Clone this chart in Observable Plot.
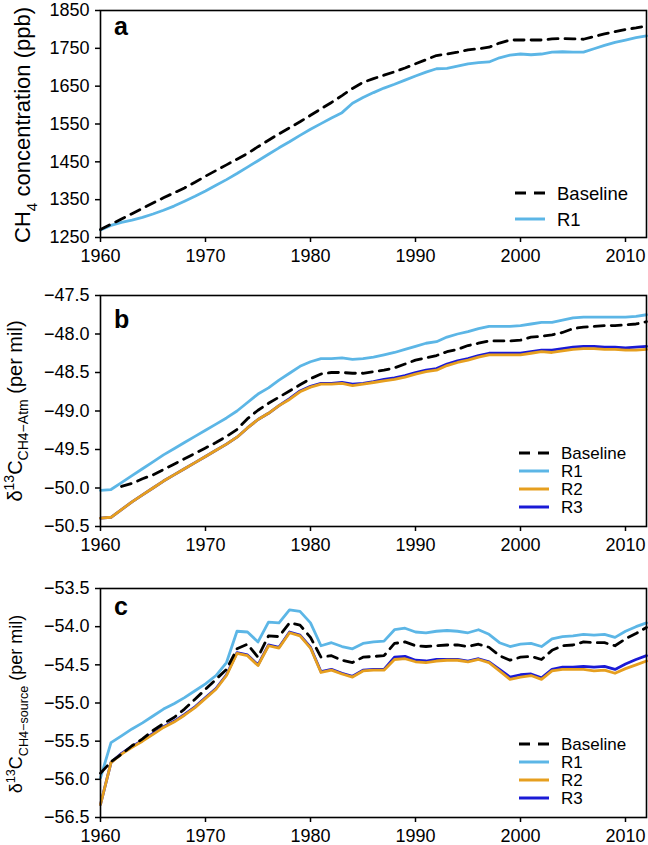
<!DOCTYPE html>
<html>
<head>
<meta charset="utf-8">
<script src="https://cdn.jsdelivr.net/npm/d3@7"></script>
<script src="https://cdn.jsdelivr.net/npm/@observablehq/plot@0.6"></script>
<style>
  body { margin: 0; background: #fff; }
  #chart svg { display: block; }
</style>
</head>
<body>
<div id="chart"></div>
<script>
// ---------------- DATA ----------------
const years = [1960,1961,1962,1963,1964,1965,1966,1967,1968,1969,
  1970,1971,1972,1973,1974,1975,1976,1977,1978,1979,
  1980,1981,1982,1983,1984,1985,1986,1987,1988,1989,
  1990,1991,1992,1993,1994,1995,1996,1997,1998,1999,
  2000,2001,2002,2003,2004,2005,2006,2007,2008,2009,
  2010,2011,2012];

const xTicks = [1960, 1970, 1980, 1990, 2000, 2010];

// Panel a: CH4 concentration (ppb)
const aBaseline = [1271,1285,1299,1313,1327,1341,1355,1368,1381,1396,
  1412,1427,1442,1457,1472,1490,1507,1524,1540,1556,
  1573,1590,1607,1625,1644,1660,1670,1679,1688,1698,
  1709,1720,1731,1735,1740,1746,1749,1753,1764,1772,
  1772,1772,1772,1775,1776,1775,1774,1781,1788,1794,
  1800,1804,1809];
const aR1 = [1270,1282,1290,1296,1303,1312,1322,1333,1346,1359,
  1373,1388,1403,1419,1436,1453,1470,1487,1503,1520,
  1536,1551,1566,1580,1605,1620,1633,1645,1655,1666,
  1677,1687,1696,1697,1703,1709,1712,1714,1725,1732,
  1735,1733,1735,1740,1741,1740,1740,1749,1758,1766,
  1772,1778,1783];
const aTicks = [1250, 1350, 1450, 1550, 1650, 1750, 1850];

// Panel b: d13C CH4-Atm (per mil)
const bBaseline = [null,null,-49.98,-49.94,-49.88,-49.83,-49.76,-49.69,-49.62,-49.55,
  -49.48,-49.41,-49.33,-49.24,-49.10,-48.99,-48.90,-48.82,-48.74,-48.66,
  -48.58,-48.52,-48.50,-48.50,-48.51,-48.51,-48.49,-48.47,-48.44,-48.39,
  -48.34,-48.31,-48.28,-48.23,-48.20,-48.15,-48.12,-48.09,-48.09,-48.09,
  -48.08,-48.04,-48.03,-48.01,-47.98,-47.93,-47.91,-47.90,-47.89,-47.89,
  -47.88,-47.87,-47.84];
const bR1 = [-50.03,-50.02,-49.93,-49.84,-49.75,-49.66,-49.57,-49.49,-49.41,-49.33,
  -49.25,-49.17,-49.09,-49.00,-48.89,-48.78,-48.70,-48.60,-48.51,-48.42,
  -48.36,-48.32,-48.32,-48.31,-48.33,-48.32,-48.30,-48.27,-48.24,-48.20,
  -48.16,-48.12,-48.10,-48.04,-48.00,-47.97,-47.93,-47.90,-47.90,-47.90,
  -47.89,-47.87,-47.85,-47.85,-47.82,-47.79,-47.78,-47.78,-47.78,-47.78,
  -47.78,-47.77,-47.75];
const bR2 = [-50.39,-50.38,-50.28,-50.18,-50.09,-50.00,-49.91,-49.83,-49.75,-49.67,
  -49.59,-49.51,-49.43,-49.34,-49.22,-49.11,-49.03,-48.93,-48.85,-48.75,
  -48.69,-48.65,-48.65,-48.64,-48.67,-48.65,-48.63,-48.61,-48.59,-48.56,
  -48.52,-48.49,-48.47,-48.41,-48.37,-48.34,-48.30,-48.27,-48.27,-48.27,
  -48.27,-48.25,-48.23,-48.24,-48.22,-48.20,-48.19,-48.19,-48.20,-48.20,
  -48.21,-48.21,-48.20];
const bR3 = [-50.39,-50.38,-50.28,-50.18,-50.09,-50.00,-49.91,-49.83,-49.75,-49.67,
  -49.59,-49.51,-49.43,-49.34,-49.22,-49.11,-49.03,-48.93,-48.84,-48.74,
  -48.68,-48.64,-48.64,-48.63,-48.65,-48.64,-48.62,-48.59,-48.57,-48.54,
  -48.50,-48.47,-48.45,-48.39,-48.35,-48.32,-48.28,-48.25,-48.25,-48.25,
  -48.25,-48.23,-48.21,-48.21,-48.19,-48.17,-48.16,-48.16,-48.17,-48.17,
  -48.18,-48.17,-48.16];
const bTicks = [-50.5, -50.0, -49.5, -49.0, -48.5, -48.0, -47.5];

// Panel c: d13C CH4-source (per mil)
const cBaseline = [-55.92,-55.77,-55.67,-55.56,-55.47,-55.36,-55.27,-55.19,-55.08,-54.95,
  -54.82,-54.69,-54.56,-54.29,-54.23,-54.40,-54.12,-54.13,-53.95,-53.98,
  -54.14,-54.40,-54.38,-54.44,-54.47,-54.40,-54.39,-54.38,-54.22,-54.20,
  -54.25,-54.26,-54.25,-54.24,-54.24,-54.26,-54.23,-54.27,-54.38,-54.44,
  -54.40,-54.39,-54.43,-54.31,-54.25,-54.24,-54.20,-54.21,-54.21,-54.25,
  -54.16,-54.09,-54.01];
const cR1 = [-55.98,-55.52,-55.43,-55.34,-55.26,-55.17,-55.08,-55.01,-54.93,-54.84,
  -54.75,-54.64,-54.47,-54.06,-54.07,-54.20,-53.94,-53.95,-53.78,-53.80,
  -53.95,-54.25,-54.21,-54.26,-54.29,-54.22,-54.20,-54.19,-54.04,-54.02,
  -54.07,-54.08,-54.06,-54.05,-54.06,-54.08,-54.04,-54.10,-54.21,-54.26,
  -54.23,-54.22,-54.26,-54.16,-54.13,-54.12,-54.10,-54.11,-54.10,-54.14,
  -54.06,-54.00,-53.95];
const cR2 = [-56.33,-55.78,-55.67,-55.58,-55.50,-55.41,-55.32,-55.25,-55.16,-55.06,
  -54.94,-54.82,-54.64,-54.35,-54.38,-54.51,-54.25,-54.28,-54.08,-54.12,
  -54.28,-54.60,-54.57,-54.62,-54.66,-54.58,-54.57,-54.57,-54.43,-54.42,
  -54.46,-54.47,-54.45,-54.44,-54.44,-54.46,-54.43,-54.47,-54.58,-54.69,
  -54.66,-54.64,-54.69,-54.58,-54.56,-54.56,-54.56,-54.58,-54.57,-54.61,
  -54.55,-54.50,-54.45];
const cR3 = [-56.33,-55.78,-55.66,-55.57,-55.49,-55.40,-55.31,-55.24,-55.15,-55.05,
  -54.93,-54.81,-54.63,-54.34,-54.37,-54.50,-54.24,-54.27,-54.07,-54.11,
  -54.27,-54.59,-54.56,-54.61,-54.65,-54.57,-54.56,-54.56,-54.40,-54.39,
  -54.44,-54.45,-54.43,-54.43,-54.43,-54.45,-54.42,-54.46,-54.56,-54.66,
  -54.63,-54.62,-54.67,-54.56,-54.53,-54.53,-54.52,-54.53,-54.52,-54.56,
  -54.49,-54.43,-54.38];
const cTicks = [-56.5, -56.0, -55.5, -55.0, -54.5, -54.0, -53.5];

// series styling names
const seriesNames = ["Baseline", "R1", "R2", "R3"];
const seriesColors = {Baseline: "#000000", R1: "#5cb6e6", R2: "#e69f1f", R3: "#1a1ad6"};

// ---------------- DRAWING ----------------
const FONT = "'Liberation Sans', Arial, Helvetica, sans-serif";
const W = 648, ML = 100, MR = 2;
const DASH = "10,7";

function table(vals) {
  return years.map((y, i) => ({year: y, value: vals[i]})).filter(d => d.value != null);
}

function richText(sel, parts, size) {
  let shift = 0;
  for (const [t, k] of parts) {
    const target = k === "sub" ? size * 0.32 : k === "sup" ? -size * 0.4 : 0;
    sel.append("tspan")
      .attr("dy", target - shift)
      .attr("font-size", k ? size * 0.7 : size)
      .text(t);
    shift = target;
  }
}

function panel(cfg) {
  const lineMarks = [];
  const order = cfg.series.includes("R3") ? ["R1", "R3", "R2", "Baseline"] : ["R1", "Baseline"];
  for (const name of order) {
    lineMarks.push(Plot.line(table(cfg.data[name]), {
      x: "year", y: "value",
      stroke: seriesColors[name],
      strokeWidth: 2.8,
      strokeDasharray: name === "Baseline" ? DASH : null,
      curve: "linear"
    }));
  }
  const svg = Plot.plot({
    width: W, height: cfg.height,
    marginLeft: ML, marginRight: MR, marginTop: cfg.mt, marginBottom: cfg.mb,
    x: {domain: [1960, 2012]},
    y: {domain: cfg.domain},
    style: {fontFamily: FONT, fontSize: "18px", color: "black", background: "white", overflow: "visible"},
    marks: [
      ...lineMarks,
      Plot.axisX({ticks: xTicks, tickFormat: d => String(d), tickSize: 5, tickPadding: 7, label: null, strokeWidth: 1.5}),
      Plot.axisY({ticks: cfg.ticks, tickFormat: cfg.fmt, tickSize: 5, tickPadding: 6, label: null, strokeWidth: 1.5}),
      Plot.frame({strokeWidth: 1.6})
    ]
  });
  const s = d3.select(svg);
  // panel letter
  s.append("text")
    .attr("x", cfg.letterX).attr("y", cfg.letterY)
    .attr("text-anchor", "start")
    .attr("font-family", FONT).attr("font-weight", "bold").attr("font-size", 25)
    .attr("fill", "black").text(cfg.letter);
  // y axis label
  const yl = s.append("text")
    .attr("transform", `translate(${cfg.ylabX},${cfg.ylabY}) rotate(-90)`)
    .attr("text-anchor", "middle")
    .attr("font-family", FONT).attr("fill", "black");
  richText(yl, cfg.ylabel, cfg.ylabSize);
  // legend
  const lg = s.append("g").attr("font-family", FONT).attr("font-size", cfg.legFont);
  cfg.series.forEach((name, i) => {
    const y = cfg.legY + i * cfg.legStep;
    lg.append("line")
      .attr("x1", cfg.legX).attr("x2", cfg.legX + 30)
      .attr("y1", y).attr("y2", y)
      .attr("stroke", seriesColors[name]).attr("stroke-width", 3)
      .attr("stroke-dasharray", name === "Baseline" ? "11,8" : null);
    lg.append("text")
      .attr("x", cfg.legX + 42).attr("y", y).attr("dy", "0.36em")
      .attr("text-anchor", "start")
      .attr("fill", "black").text(name);
  });
  return svg;
}

const fmt1 = d3.format(".1f");
const root = document.getElementById("chart");

root.appendChild(panel({
  height: 288, mt: 10, mb: 51,
  domain: [1250, 1850], ticks: aTicks, fmt: d => String(d),
  data: {Baseline: aBaseline, R1: aR1}, series: ["Baseline", "R1"],
  letter: "a", letterX: 114, letterY: 35,
  ylabel: [["CH", ""], ["4", "sub"], [" concentration (ppb)", ""]],
  ylabX: 30, ylabY: 125, ylabSize: 22,
  legX: 515, legY: 193, legStep: 26, legFont: 18.5
}));

root.appendChild(panel({
  height: 288, mt: 7, mb: 50,
  domain: [-50.5, -47.5], ticks: bTicks, fmt: fmt1,
  data: {Baseline: bBaseline, R1: bR1, R2: bR2, R3: bR3}, series: seriesNames,
  letter: "b", letterX: 114, letterY: 40,
  ylabel: [["δ", ""], ["13", "sup"], ["C", ""], ["CH4−Atm", "sub"], [" (per mil)", ""]],
  ylabX: 22, ylabY: 123, ylabSize: 20,
  legX: 519, legY: 165, legStep: 18, legFont: 17
}));

root.appendChild(panel({
  height: 269, mt: 12, mb: 28,
  domain: [-56.5, -53.5], ticks: cTicks, fmt: fmt1,
  data: {Baseline: cBaseline, R1: cR1, R2: cR2, R3: cR3}, series: seriesNames,
  letter: "c", letterX: 114, letterY: 39,
  ylabel: [["δ", ""], ["13", "sup"], ["C", ""], ["CH4−source", "sub"], [" (per mil)", ""]],
  ylabX: 22, ylabY: 128, ylabSize: 18,
  legX: 519, legY: 168, legStep: 18, legFont: 17
}));
</script>
</body>
</html>
